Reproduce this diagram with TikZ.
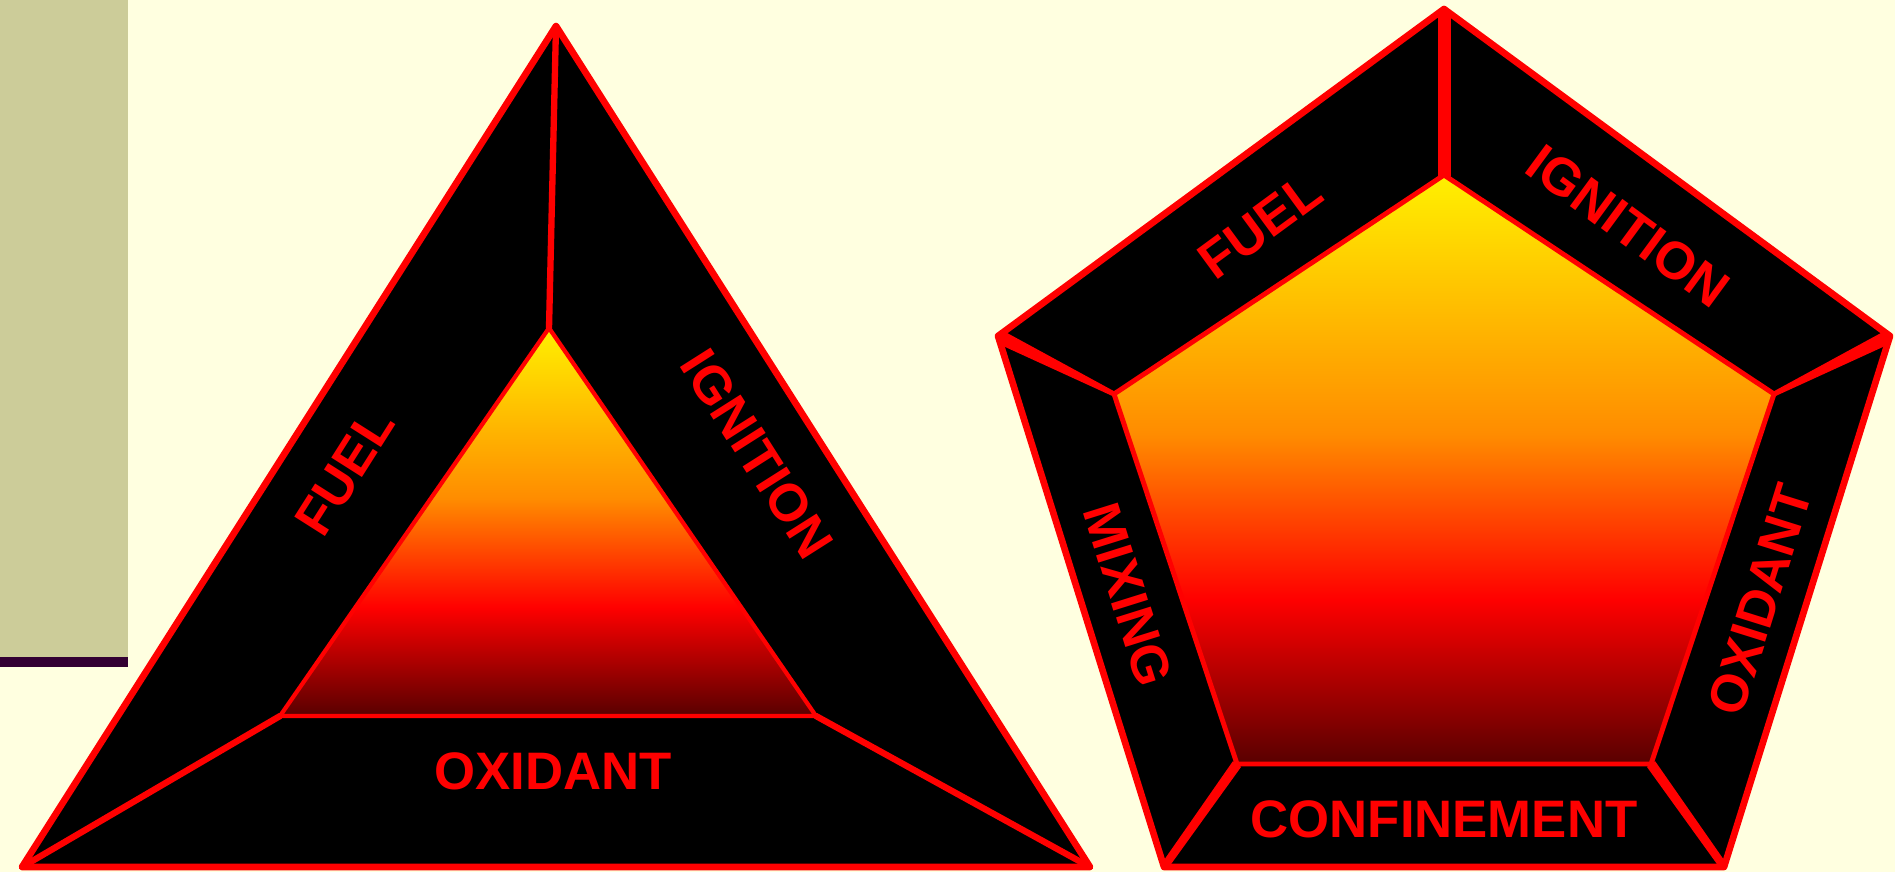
\documentclass[tikz,border=0pt]{standalone}
\usepackage{fontspec}
\setmainfont{Liberation Sans}
\usetikzlibrary{calc}

\definecolor{paper}{HTML}{FFFFE0}
\definecolor{khaki}{HTML}{CCCC99}
\definecolor{plum}{HTML}{330033}
\definecolor{fireyellow}{HTML}{FFF000}
\definecolor{fireorange}{HTML}{FF8C00}
\definecolor{firedark}{HTML}{580000}

\pgfdeclareverticalshading{fire}{100bp}{color(0bp)=(firedark); color(25bp)=(firedark); color(39bp)=(red); color(53bp)=(fireorange); color(75bp)=(fireyellow); color(100bp)=(fireyellow)}

\begin{document}
\begin{tikzpicture}[x=0.01cm, y=-0.01cm,
    face/.style={fill=black, draw=red, line width=1.9pt, line join=round},
    core/.style={shade, shading=fire, draw=red, line width=1.2pt, line join=round},
    spoke/.style={draw=red, line width=1.8pt, line cap=round},
    word/.style={text=red, inner sep=0pt, font=\fontsize{15}{18}\selectfont\bfseries}]

    % Page background and side strip
    \fill[paper] (0,0) rectangle (1895,872);
    \useasboundingbox (0,0) rectangle (1895,872);
    \fill[khaki] (0,0) rectangle (128,657);
    \fill[plum] (0,657) rectangle (128,667);

    % Fire triangle: outer and inner corners
    \coordinate (tA) at (556,26);
    \coordinate (tL) at (22,867);
    \coordinate (tR) at (1090,867);
    \coordinate (tiA) at (549,328);
    \coordinate (tiL) at (280,716);
    \coordinate (tiR) at (816,716);

    \draw[face] (tA) -- (tR) -- (tL) -- cycle;
    \draw[spoke] (tA) -- (tiA);
    \draw[spoke] (tL) -- (tiL);
    \draw[spoke] (tR) -- (tiR);
    \draw[core] (tiA) -- (tiR) -- (tiL) -- cycle;

    \node[word, rotate=57.6] (tfuel) at (345,472) {FUEL};
    \node[word, rotate=-57.6] (tignition) at (757,454) {IGNITION};
    \node[word] (toxidant) at (553,771) {OXIDANT};

    % Explosion pentagon: outer and inner corners
    \coordinate (pT) at (1444,9);
    \coordinate (pR) at (1890,336);
    \coordinate (pL) at (998,336);
    \coordinate (pBR) at (1724,867);
    \coordinate (pBL) at (1164,867);
    \coordinate (piT) at (1444,175);
    \coordinate (piR) at (1774,394);
    \coordinate (piL) at (1114,394);
    \coordinate (piBR) at (1651,764);
    \coordinate (piBL) at (1237,764);

    \draw[face] (pT) -- (pR) -- (pBR) -- (pBL) -- (pL) -- cycle;
    \begin{scope}
        \clip (pT) -- (pR) -- (pBR) -- (pBL) -- (pL) -- cycle;
        \draw[spoke, line width=3.7pt] (pT) -- (piT);
        \fill[red] ($(piL)!0.025cm!90:(pL)$) -- ($(pL)!0.07cm!-90:(piL)$) -- ($(pL)!0.07cm!90:(piL)$) -- ($(piL)!0.025cm!-90:(pL)$) -- cycle;
        \fill[red] ($(piR)!0.025cm!90:(pR)$) -- ($(pR)!0.07cm!-90:(piR)$) -- ($(pR)!0.07cm!90:(piR)$) -- ($(piR)!0.025cm!-90:(pR)$) -- cycle;
        \fill[red] ($(piBL)!0.05cm!90:(pBL)$) -- ($(pBL)!0.04cm!-90:(piBL)$) -- ($(pBL)!0.04cm!90:(piBL)$) -- ($(piBL)!0.05cm!-90:(pBL)$) -- cycle;
        \fill[red] ($(piBR)!0.05cm!90:(pBR)$) -- ($(pBR)!0.04cm!-90:(piBR)$) -- ($(pBR)!0.04cm!90:(piBR)$) -- ($(piBR)!0.05cm!-90:(pBR)$) -- cycle;
    \end{scope}
    \draw[core, line width=1.4pt] (piT) -- (piR) -- (piBR) -- (piBL) -- (piL) -- cycle;

    \node[word, rotate=36.3] (pfuel) at (1260,226) {FUEL};
    \node[word, rotate=-36.3] (pignition) at (1628,226) {IGNITION};
    \node[word, rotate=-72.6] (pmixing) at (1128,595) {MIXING};
    \node[word, rotate=72.6] (poxidant) at (1760,600) {OXIDANT};
    \node[word] (pconfinement) at (1444,819) {CONFINEMENT};
\end{tikzpicture}
\end{document}
